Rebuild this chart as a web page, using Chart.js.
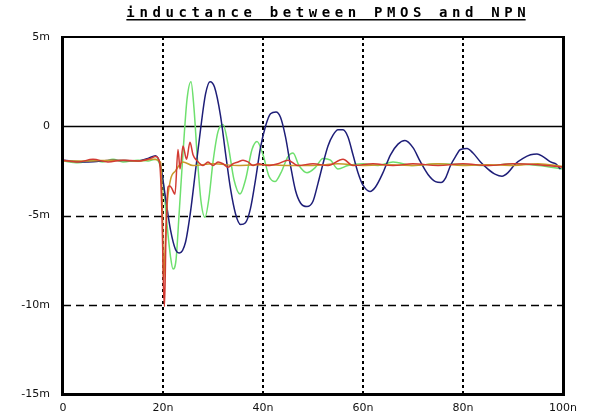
<!DOCTYPE html>
<html><head><meta charset="utf-8">
<script src="https://cdn.jsdelivr.net/npm/chart.js@4"></script>
<style>html,body{margin:0;padding:0;background:#fff}</style>
</head><body>
<canvas id="c" width="590" height="420"></canvas>
<script>
const titleText = 'inductance between PMOS and NPN';
const xTickValues = [0, 20, 40, 60, 80, 100];
const xTickLabels = ['0', '20n', '40n', '60n', '80n', '100n'];
const yTickValues = [5, 0, -5, -10, -15];
const yTickLabels = ['5m', '0', '-5m', '-10m', '-15m'];

const blueTime  = [0,5,10,15,17,18.5,19.5,20.5,21.5,22.5,23.3,24.5,25.5,26.5,27.5,28.5,29.4,30.3,31.5,32.5,33.5,34.5,35.5,36.5,37.5,38.5,39.5,40.5,41.5,42.6,43.5,44.5,45.5,46.5,47.5,48.8,50,51,52,53,54,55,56,57,58,59,60,61.4,62.5,64,65.5,67,68.4,70,71.5,73,74.5,75.6,76.5,77.5,78.5,79.5,80.8,82,83.5,85,86.5,87.8,89,90.5,92,93.5,94.8,96,97.5,98.5,99.5];
const blueValue = [-1.9,-2.0,-1.9,-1.95,-1.8,-1.65,-2.2,-4.0,-5.8,-6.9,-7.1,-6.5,-4.8,-2.5,-0.2,1.8,2.5,2.2,0.6,-1.5,-3.5,-4.9,-5.5,-5.4,-4.6,-3.0,-1.2,0.0,0.7,0.8,0.5,-0.6,-2.2,-3.6,-4.3,-4.5,-4.2,-3.2,-2.1,-1.1,-0.5,-0.2,-0.2,-0.6,-1.6,-2.6,-3.3,-3.65,-3.4,-2.6,-1.6,-1.0,-0.8,-1.2,-2.0,-2.7,-3.1,-3.15,-2.9,-2.2,-1.7,-1.3,-1.25,-1.5,-2.0,-2.4,-2.7,-2.8,-2.6,-2.1,-1.8,-1.6,-1.55,-1.7,-2.0,-2.1,-2.4];

const greenTime  = [0,3,6,8,10,12,15,17,18.5,19.3,20,20.8,21.5,22,22.6,23.2,24,24.8,25.6,26.2,26.8,27.6,28.4,29.2,30,31,32,33,34.2,35.4,36.5,37.8,38.8,40,41.2,42.4,43.6,45,46,47.2,48.8,50.5,52,53.5,55,57,60,63,66,70,75,80,85,90,95,100];
const greenValue = [-1.95,-2.05,-1.9,-2.0,-1.85,-2.0,-1.9,-1.95,-1.85,-2.1,-3.0,-5.5,-7.3,-8.0,-7.5,-5.0,-1.5,1.5,2.5,1.0,-1.5,-4.2,-5.1,-4.0,-2.0,-0.3,0.1,-1.0,-3.0,-3.8,-3.0,-1.3,-0.85,-1.6,-2.8,-3.1,-2.6,-1.7,-1.5,-2.2,-2.6,-2.3,-1.8,-1.9,-2.4,-2.2,-2.1,-2.2,-2.0,-2.2,-2.1,-2.15,-2.2,-2.1,-2.2,-2.4];

const redTime  = [0,3,6,9,12,15,17.5,18.5,19.3,19.8,20.1,20.3,20.6,21.0,21.4,21.7,22.4,23,23.4,24,24.7,25.4,26,26.7,28,29,30,31,32,33,34,35,36,37,38,39,41,43,45,47,50,53,56,58,62,66,70,75,80,85,90,95,100];
const redValue = [-1.9,-2.0,-1.85,-2.0,-1.9,-1.95,-1.8,-1.7,-2.0,-5.0,-9.0,-10.1,-6.0,-3.4,-3.35,-3.45,-3.8,-1.3,-2.4,-1.1,-1.85,-0.9,-1.6,-1.9,-2.2,-2.0,-2.2,-2.0,-2.1,-2.3,-2.1,-2.0,-1.9,-2.0,-2.2,-2.1,-2.2,-2.1,-1.9,-2.2,-2.1,-2.2,-1.85,-2.2,-2.1,-2.2,-2.1,-2.2,-2.1,-2.2,-2.1,-2.15,-2.3];

const orangeTime  = [0,5,10,15,18,19.5,19.9,20.1,20.4,20.8,21.5,22.5,24,26,30,35,40,45,50,55,60,65,70,75,80,85,90,95,100];
const orangeValue = [-1.95,-1.95,-1.9,-1.95,-1.85,-2.0,-5.0,-8.8,-7.0,-4.5,-3.0,-2.5,-2.0,-2.2,-2.1,-2.2,-2.15,-2.2,-2.2,-2.1,-2.2,-2.15,-2.2,-2.1,-2.2,-2.15,-2.2,-2.1,-2.25];

const toPts = (t, v) => t.map((x, i) => ({x: x, y: v[i]}));

const frameGrid = {
  id: 'frameGrid',
  beforeDatasetsDraw(chart) {
    const {ctx, chartArea: a, scales: {x, y}} = chart;
    ctx.save();
    ctx.strokeStyle = '#000';
    ctx.lineWidth = 2;
    ctx.setLineDash([3, 3]);
    xTickValues.slice(1, -1).forEach(v => {
      const px = Math.round(x.getPixelForValue(v));
      ctx.beginPath(); ctx.moveTo(px, a.top); ctx.lineTo(px, a.bottom); ctx.stroke();
    });
    ctx.lineWidth = 1.5;
    ctx.setLineDash([8, 5]);
    yTickValues.slice(1, -1).forEach(v => {
      if (v === 0) return;
      const py = Math.round(y.getPixelForValue(v)) + 0.5;
      ctx.beginPath(); ctx.moveTo(a.left, py); ctx.lineTo(a.right, py); ctx.stroke();
    });
    ctx.setLineDash([]);
    const p0 = Math.round(y.getPixelForValue(0)) + 0.5;
    ctx.beginPath(); ctx.moveTo(a.left, p0); ctx.lineTo(a.right, p0); ctx.stroke();
    ctx.restore();
  },
  afterDatasetsDraw(chart) {
    const {ctx, chartArea: a} = chart;
    ctx.save();
    ctx.fillStyle = '#000';
    ctx.fillRect(a.left - 2, a.top - 1, 3, a.bottom - a.top + 3);
    ctx.fillRect(a.right - 1, a.top - 1, 3, a.bottom - a.top + 3);
    ctx.fillRect(a.left - 2, a.bottom - 1, a.right - a.left + 4, 3);
    ctx.fillRect(a.left - 2, a.top - 1, a.right - a.left + 4, 2);
    ctx.restore();
  },
  afterDraw(chart) {
    const {ctx, chartArea: a} = chart;
    ctx.save();
    const sp = 4.6;
    ctx.font = 'bold 14px "DejaVu Sans Mono"';
    ctx.letterSpacing = sp + 'px';
    ctx.fillStyle = '#000';
    ctx.textAlign = 'left';
    ctx.textBaseline = 'alphabetic';
    const w = ctx.measureText(titleText).width - sp;
    const cx = (a.left + a.right) / 2 + 13;
    const x0 = cx - w / 2;
    ctx.fillText(titleText, x0, 17);
    ctx.fillRect(x0, 19, w, 1.5);
    ctx.restore();
  }
};

new Chart(document.getElementById('c'), {
  type: 'line',
  data: {
    datasets: [
      {label: 'red', data: toPts(redTime, redValue), borderColor: '#d23a32', order: 1},
      {label: 'orange', data: toPts(orangeTime, orangeValue), borderColor: '#c89a2a', order: 2},
      {label: 'blue', data: toPts(blueTime, blueValue), borderColor: '#1e1e78', order: 3},
      {label: 'green', data: toPts(greenTime, greenValue), borderColor: '#6ee06e', order: 4}
    ]
  },
  options: {
    responsive: false,
    devicePixelRatio: 1,
    animation: false,
    elements: {
      point: {radius: 0},
      line: {borderWidth: 1.5, cubicInterpolationMode: 'monotone', fill: false}
    },
    layout: {padding: {top: 37, right: 27, left: 0, bottom: 0}},
    plugins: {legend: {display: false}, title: {display: false}, tooltip: {enabled: false}},
    scales: {
      x: {
        type: 'linear', min: 0, max: 100,
        afterBuildTicks: s => { s.ticks = xTickValues.map(v => ({value: v})); },
        afterFit: s => { s.height = 26; },
        ticks: {
          callback: v => xTickLabels[xTickValues.indexOf(v)],
          autoSkip: false, maxRotation: 0, padding: 8,
          font: {family: 'DejaVu Sans', size: 11}, color: '#111'
        },
        grid: {display: false, drawTicks: false},
        border: {display: false}
      },
      y: {
        type: 'linear', min: -15, max: 5,
        afterBuildTicks: s => { s.ticks = yTickValues.map(v => ({value: v})); },
        afterFit: s => { s.width = 63; },
        ticks: {
          callback: v => yTickLabels[yTickValues.indexOf(v)],
          autoSkip: false, padding: 13,
          font: {family: 'DejaVu Sans', size: 11}, color: '#111'
        },
        grid: {display: false, drawTicks: false},
        border: {display: false}
      }
    }
  },
  plugins: [frameGrid]
});
</script>
</body></html>
